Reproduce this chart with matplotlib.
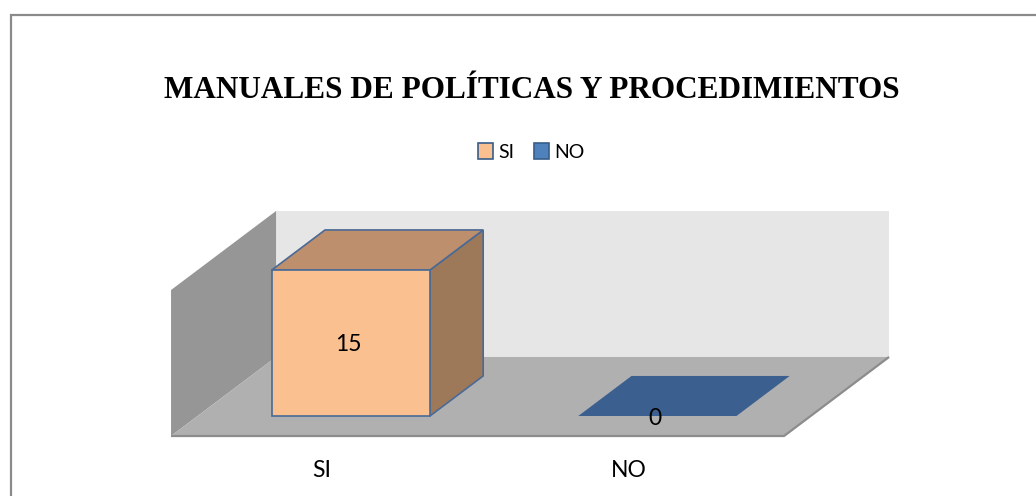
import numpy as np
import matplotlib.pyplot as plt
from matplotlib.patches import Polygon, Rectangle, Patch

# datos
categorias = ["SI", "NO"]
valores = [15, 0]
titulo = "MANUALES DE POLÍTICAS Y PROCEDIMIENTOS"

# colores estilo Excel 3D
col_frente = ["#FAC090", "#3B5F8E"]
col_techo = ["#BD8F6C", "#3B5F8E"]
col_lado = ["#9E7959", "#3B5F8E"]
col_borde = "#4A6A96"
col_leyenda = ["#FAC090", "#4F81BD"]

fuente = ["Lato", "DejaVu Sans"]

# proyeccion oblicua: profundidad z en [0,1]
DX = 0.3426   # desplazamiento en x (categorias) por profundidad completa
DY = 8.12     # desplazamiento en y (valores) por profundidad completa
z0, z1 = 0.253, 0.76
media_ancho = 0.258
tope = max(valores)

def proy(x, z, v):
    return (x + z * DX, v + z * DY)

fig = plt.figure(figsize=(10.36, 4.96), dpi=100)
ax = fig.add_axes([0, 0, 1, 1])
ax.set_xlim(-1.058, 2.322)
ax.set_ylim(-6.165, 44.8)
ax.axis("off")

# paredes y piso
x_ini, x_fin = -0.5, len(categorias) - 0.5
pared_fondo = [proy(x_ini, 1, 0), proy(x_fin, 1, 0), proy(x_fin, 1, tope), proy(x_ini, 1, tope)]
pared_lado = [proy(x_ini, 0, 0), proy(x_ini, 1, 0), proy(x_ini, 1, tope), proy(x_ini, 0, tope)]
piso = [proy(x_ini, 0, 0), proy(x_fin, 0, 0), proy(x_fin, 1, 0), proy(x_ini, 1, 0)]
ax.add_patch(Polygon(pared_fondo, closed=True, fc="#e6e6e6", ec="none"))
ax.add_patch(Polygon(pared_lado, closed=True, fc="#969696", ec="none"))
ax.add_patch(Polygon(piso, closed=True, fc="#b0b0b0", ec="none"))
bx, by = zip(proy(x_ini, 0, 0), proy(x_fin, 0, 0), proy(x_fin, 1, 0))
ax.plot(bx, by, color="#8c8c8c", lw=1.6, solid_capstyle="butt")

# barras
for i, v in enumerate(valores):
    xl, xr = i - media_ancho, i + media_ancho
    if v > 0:
        frente = [proy(xl, z0, 0), proy(xr, z0, 0), proy(xr, z0, v), proy(xl, z0, v)]
        techo = [proy(xl, z0, v), proy(xr, z0, v), proy(xr, z1, v), proy(xl, z1, v)]
        lado = [proy(xr, z0, 0), proy(xr, z1, 0), proy(xr, z1, v), proy(xr, z0, v)]
        ax.add_patch(Polygon(lado, closed=True, fc=col_lado[i], ec=col_borde, lw=1.2))
        ax.add_patch(Polygon(techo, closed=True, fc=col_techo[i], ec=col_borde, lw=1.2))
        ax.add_patch(Polygon(frente, closed=True, fc=col_frente[i], ec=col_borde, lw=1.2))
        dy_txt = -0.2
    else:
        base = [proy(xl, z0, 0), proy(xr, z0, 0), proy(xr, z1, 0), proy(xl, z1, 0)]
        ax.add_patch(Polygon(base, closed=True, fc=col_frente[i], ec="none"))
        dy_txt = -0.3
    tx, ty = proy(i, z0, v / 2)
    ax.text(tx - 0.008, ty + dy_txt, str(v), ha="center", va="center", fontsize=16.5, family=fuente)

# etiquetas de categoria
for i, c in enumerate(categorias):
    tx, ty = proy(i, 0, -3.5)
    ax.text(tx - 0.008, ty, c, ha="center", va="center", fontsize=16.5, family=fuente)

# titulo y leyenda
fig.text(0.513, 1 - 91 / 496, titulo, ha="center", va="center",
         fontsize=22.5, fontweight="bold", family="Liberation Serif")
manijas = [Patch(fc=col_leyenda[i], ec="#385D8A", lw=1.2) for i in range(len(categorias))]
fig.legend(manijas, categorias, loc="center", bbox_to_anchor=(0.513, 1 - 152 / 496),
           ncol=2, frameon=False, handlelength=0.75, handleheight=0.9, handletextpad=0.3,
           columnspacing=1.0, prop={"family": fuente, "size": 14})

# borde exterior del grafico
fig.add_artist(Rectangle((10.5 / 1036, -0.1), 1.1, 1 - 15 / 496 + 0.1,
                         transform=fig.transFigure, fill=False, ec="#8a8a8a", lw=1.6))

fig.savefig("out.png", dpi=100)
